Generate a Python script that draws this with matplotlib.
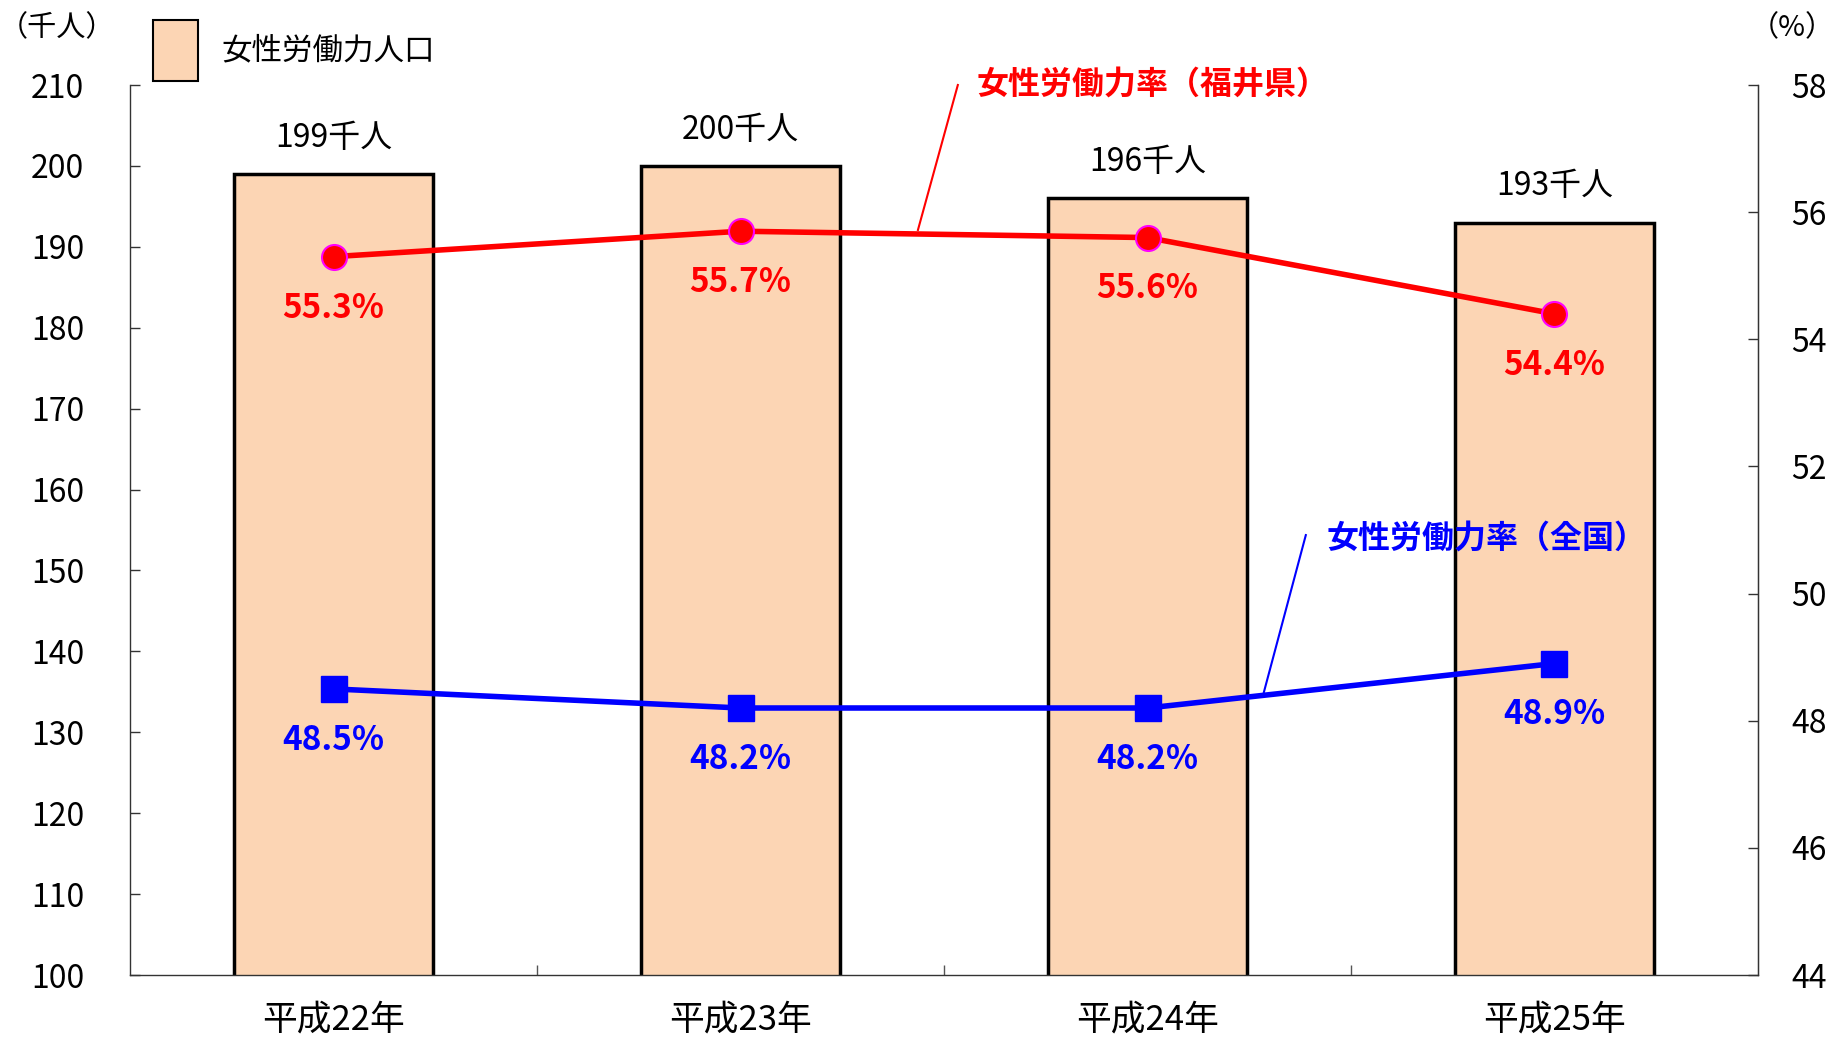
import matplotlib
matplotlib.use("Agg")
import matplotlib.pyplot as plt
from matplotlib.ticker import MultipleLocator, FixedLocator

plt.rcParams['font.family'] = ['Noto Sans CJK JP', 'DejaVu Sans']

categories = ['平成22年', '平成23年', '平成24年', '平成25年']
population = [199, 200, 196, 193]           # 千人
rate_fukui = [55.3, 55.7, 55.6, 54.4]        # %
rate_japan = [48.5, 48.2, 48.2, 48.9]        # %

W, H = 1833, 1040
fig = plt.figure(figsize=(W / 100, H / 100), dpi=100)
L, R, T, B = 130, 1758, 85, 975
ax = fig.add_axes([L / W, 1 - B / H, (R - L) / W, (B - T) / H])
ax2 = ax.twinx()

x = list(range(len(categories)))
bars = ax.bar(x, population, width=0.49, color='#FCD5B4', edgecolor='black',
              linewidth=2.5, label='女性労働力人口', zorder=2)
ax.set_xlim(-0.5, len(categories) - 0.5)
ax.set_ylim(100, 210)
ax.yaxis.set_major_locator(MultipleLocator(10))
ax.set_xticks(x)
ax.set_xticklabels(categories, fontsize=25)
ax.xaxis.set_minor_locator(FixedLocator([0.5, 1.5, 2.5]))
ax.tick_params(axis='x', which='major', length=0, pad=20)
ax.tick_params(axis='x', which='minor', direction='in', length=7, width=1, color='#555555')
ax.tick_params(axis='y', direction='in', length=7, width=1, labelsize=23, color='#333333')
for lab in ax.get_yticklabels():
    lab.set_horizontalalignment('center')
ax.tick_params(axis='y', pad=52)

for s in ['top']:
    ax.spines[s].set_visible(False)
    ax2.spines[s].set_visible(False)
for s in ['left', 'bottom']:
    ax.spines[s].set_color('#333333')
    ax.spines[s].set_linewidth(1)
ax2.spines['right'].set_color('#333333')
ax2.spines['right'].set_linewidth(1)
ax2.spines['left'].set_visible(False)
ax2.spines['bottom'].set_visible(False)

for xi, v in zip(x, population):
    ax.annotate(f'{v}千人', (xi, v), xytext=(0, 26), textcoords='offset points',
                ha='center', va='center', fontsize=23, color='black')

ax2.set_ylim(44, 58)
ax2.yaxis.set_major_locator(MultipleLocator(2))
ax2.tick_params(axis='y', direction='in', length=7, width=1, labelsize=23, pad=24, color='#333333')

ax2.plot(x, rate_fukui, color='#FF0000', lw=4, marker='o', markersize=18,
         markerfacecolor='#FF0000', markeredgecolor='#FF00FF', markeredgewidth=1.5, zorder=5)
ax2.plot(x, rate_japan, color='#0000FF', lw=4, marker='s', markersize=19,
         markerfacecolor='#0000FF', markeredgecolor='#0000FF', zorder=5)

for xi, v in zip(x, rate_fukui):
    ax2.annotate(f'{v}%', (xi, v), xytext=(0, -37), textcoords='offset points',
                 ha='center', va='center', fontsize=24, fontweight='bold', color='#FF0000')
for xi, v in zip(x, rate_japan):
    ax2.annotate(f'{v}%', (xi, v), xytext=(0, -37), textcoords='offset points',
                 ha='center', va='center', fontsize=24, fontweight='bold', color='#0000FF')

# series name callouts
ax2.plot([1.534, 1.436], [58.0, 55.72], color='#FF0000', lw=1.5, clip_on=False, zorder=4)
ax2.text(1.579, 58.0, '女性労働力率（福井県）', color='#FF0000', fontsize=23,
         fontweight='bold', ha='left', va='center')
ax2.plot([2.389, 2.286], [50.92, 48.45], color='#0000FF', lw=1.5, zorder=4)
ax2.text(2.441, 50.87, '女性労働力率（全国）', color='#0000FF', fontsize=23,
         fontweight='bold', ha='left', va='center')

# unit labels
fig.text(57 / W, 1 - 28 / H, '（千人）', fontsize=21, ha='center', va='center')
fig.text(1792 / W, 1 - 28 / H, '（%）', fontsize=21, ha='center', va='center')

leg = ax.legend(handles=[bars], loc='upper left', bbox_to_anchor=(153 / W, 1 - 20 / H),
                bbox_transform=fig.transFigure, frameon=False, fontsize=22,
                handlelength=1.48, handleheight=2.7, handletextpad=0.75,
                borderpad=0, borderaxespad=0)
for p in leg.get_patches():
    p.set_linewidth(1.5)

ax.set_zorder(1)
ax2.set_zorder(2)
ax.patch.set_visible(False)

fig.savefig('out.png', dpi=100)
